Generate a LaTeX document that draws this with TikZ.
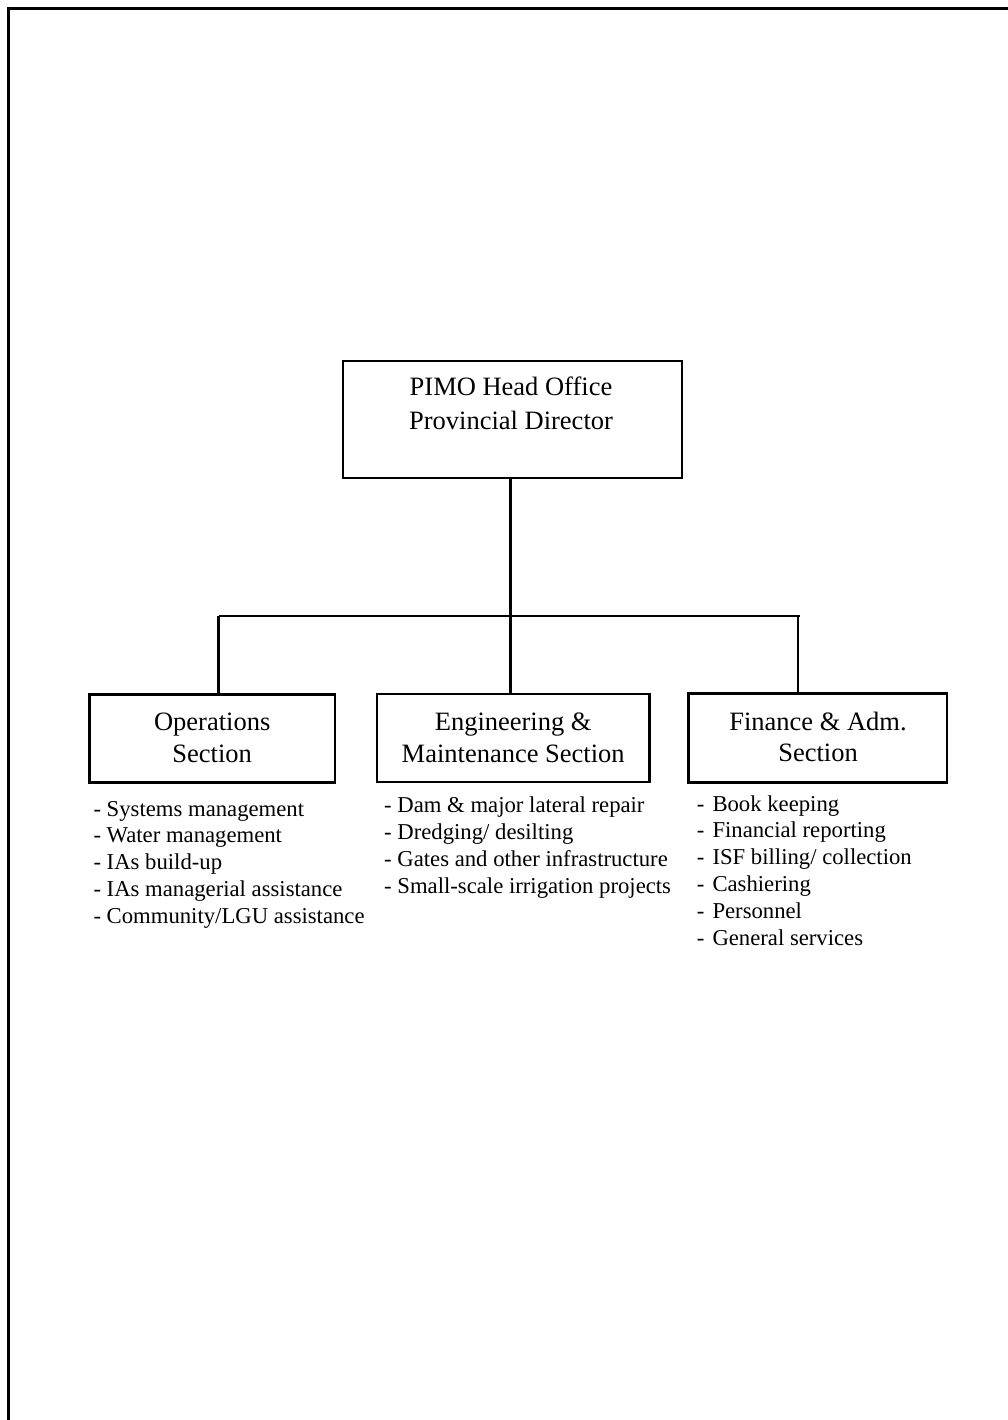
\documentclass[tikz,border=0pt]{standalone}
\usepackage{fontspec}
\setmainfont{Liberation Serif}
\begin{document}
\begin{tikzpicture}[x=1pt,y=-1pt,
  unit/.style={draw,line width=2.1pt,inner sep=0pt},
  title/.style={inner sep=0pt,anchor=base,font=\fontsize{26.5}{32}\selectfont},
  duty/.style={inner sep=0pt,anchor=base west,font=\fontsize{22.7}{26.8}\selectfont},
  link/.style={line width=2.1pt}]
\useasboundingbox (0,0) rectangle (1007,1420);
% page frame
\draw[line width=3pt] (8,1430) -- (8,9) -- (1015,9);

% boxes
\node[unit,minimum width=339pt,minimum height=117pt] (head) at (512.5,419.5) {};
\node[unit,minimum width=245.5pt,minimum height=88pt] (ops) at (212.25,738.5) {};
\node[unit,minimum width=272.5pt,minimum height=88pt] (eng) at (513.25,738.25) {};
\node[unit,minimum width=258.5pt,minimum height=89pt] (fin) at (817.75,738) {};

% box titles
\node[title] (head1) at (511,395.7) {PIMO Head Office};
\node[title] (head2) at (511,429) {Provincial Director};
\node[title] (ops1) at (212.2,730) {Operations};
\node[title] (ops2) at (212.2,762.3) {Section};
\node[title] (eng1) at (513.2,730.5) {Engineering \&};
\node[title] (eng2) at (513.2,762.3) {Maintenance Section};
\node[title] (fin1) at (818,730) {Finance \& Adm.};
\node[title] (fin2) at (818,761.5) {Section};

% connectors
\coordinate (busL) at (218.5,615.7);
\coordinate (bus) at (510.5,615.7);
\coordinate (busR) at (798,615.7);
\draw[link] (head.south -| bus) -- (bus);
\draw[link] (busL) -- ([xshift=1.5pt]busR);
\draw[link] (busL) -- (busL |- ops.north);
\draw[link] (bus) -- (bus |- eng.north);
\draw[link] (busR) -- (busR |- fin.north);

% duties
\foreach \t [count=\i] in {Systems management, Water management, IAs build-up,
    IAs managerial assistance, Community/LGU assistance}
  \node[duty] (opsd\i) at ({93.3},{816+26.8*(\i-1)}) {- \t};
\foreach \t [count=\i] in {Dam \& major lateral repair, Dredging/ desilting,
    Gates and other infrastructure, Small-scale irrigation projects}
  \node[duty] (engd\i) at ({384},{812.3+27*(\i-1)}) {- \t};
\foreach \t [count=\i] in {Book keeping, Financial reporting, ISF billing/ collection,
    Cashiering, Personnel, General services}
  \node[duty] (find\i) at ({696.7},{811+26.9*(\i-1)}) {\makebox[15.6pt][l]{-}\t};
\end{tikzpicture}
\end{document}
